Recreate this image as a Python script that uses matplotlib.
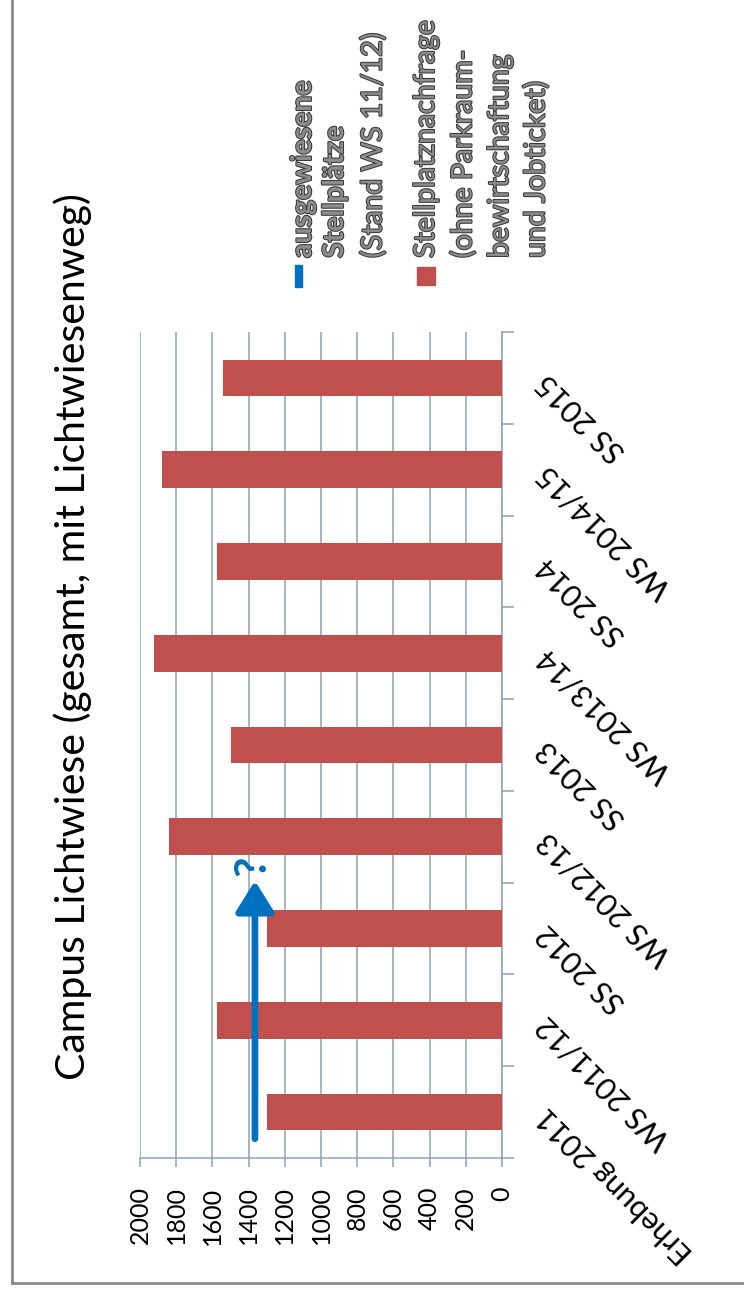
import numpy as np
import matplotlib
matplotlib.use("Agg")
import matplotlib.pyplot as plt
import matplotlib.transforms as mtransforms
import matplotlib.patheffects as pe
from matplotlib.lines import Line2D

categories = ["Erhebung 2011", "WS 2011/12", "SS 2012", "WS 2012/13", "SS 2013",
              "WS 2013/14", "SS 2014", "WS 2014/15", "SS 2015"]
nachfrage = [1300, 1575, 1300, 1840, 1500, 1920, 1575, 1880, 1540]
stellplaetze = 1365
value_ticks = [0, 200, 400, 600, 800, 1000, 1200, 1400, 1600, 1800, 2000]

title = "Campus Lichtwiese (gesamt, mit Lichtwiesenweg)"
legend_blue = ["ausgewiesene", "Stellplätze", "(Stand WS 11/12)"]
legend_red = ["Stellplatznachfrage", "(ohne Parkraum-", "bewirtschaftung", "und Jobticket)"]

RED = "#C0504D"
BLUE = "#0070C0"
GRID = "#8DA2B3"
FONT = "Lato"

W, H = 744, 1295


def fx(px):
    return px / W


def fy(py):
    return 1 - py / H


plt.rcParams["font.family"] = [FONT, "DejaVu Sans"]

fig = plt.figure(figsize=(W / 100, H / 100), dpi=100)
ax = fig.add_axes([fx(140), fy(1158), (502 - 140) / W, (1158 - 332) / H])

pos = np.arange(len(categories))
ax.barh(pos, nachfrage, height=0.4, color=RED, zorder=3)
ax.set_xlim(2000, 0)
ax.set_ylim(-0.5, len(categories) - 0.5)

# value axis (bottom)
ax.set_xticks(value_ticks)
ax.set_xticklabels([str(v) for v in value_ticks], rotation=90, fontsize=18)
ax.tick_params(axis="x", length=6.5, width=1.1, color=GRID, pad=14)
ax.xaxis.grid(True, color=GRID, linewidth=1.1)
ax.set_axisbelow(True)

# category axis (right), ticks between categories
ax.yaxis.tick_right()
ax.set_yticks(np.arange(len(categories) + 1) - 0.5)
ax.tick_params(axis="y", length=8.6, width=1.1, color=GRID, direction="out",
               labelright=False)
for s in ["left", "top"]:
    ax.spines[s].set_visible(False)
for s in ["right", "bottom"]:
    ax.spines[s].set_color(GRID)
    ax.spines[s].set_linewidth(1.1)

off = mtransforms.offset_copy(ax.get_yaxis_transform(), fig=fig, x=40, y=0, units="dots")
for i, c in enumerate(categories):
    ax.text(1.0, i, c, transform=off, rotation=135, rotation_mode="anchor",
            ha="right", va="center", fontsize=22)

# blue arrow for the designated parking spaces
ax.annotate("", xy=(stellplaetze, 2.52), xytext=(stellplaetze, -0.29),
            arrowprops=dict(arrowstyle="-|>,head_length=0.4,head_width=0.25",
                            lw=4.8, color=BLUE, mutation_scale=47,
                            shrinkA=0, shrinkB=0),
            zorder=4)
ax.text(1381, 2.68, "?", rotation=90, ha="center", va="center", fontsize=32,
        fontweight="bold", color=BLUE, zorder=4)

# title
fig.text(fx(73), fy(637), title, rotation=90, ha="center", va="center", fontsize=29.5)

# legend drawn by hand (rotated)
outline = [pe.withStroke(linewidth=1.5, foreground="#3a3a3a")]
fig.add_artist(plt.Rectangle((fx(295), fy(287)), 7 / W, 22 / H, color=BLUE,
                             transform=fig.transFigure))
for i, (txt, xc) in enumerate(zip(legend_blue, [303, 335, 373])):
    fig.text(fx(xc), fy(258), txt, rotation=90, rotation_mode="anchor",
             ha="left", va="center", fontsize=20.5, color="#8c8c8c",
             fontweight="bold" if i < 2 else "normal", path_effects=outline)

fig.add_artist(plt.Rectangle((fx(417), fy(285)), 18 / W, 18 / H, color=RED,
                             transform=fig.transFigure))
for txt, xc in zip(legend_red, [426, 463, 500, 536]):
    fig.text(fx(xc), fy(258), txt, rotation=90, rotation_mode="anchor",
             ha="left", va="center", fontsize=20.5, color="#8c8c8c",
             path_effects=outline)

# outer frame (left and bottom edges visible)
fig.add_artist(Line2D([fx(12), fx(12)], [fy(1283), 1.0], color="#8a8a8a", lw=2,
                      transform=fig.transFigure))
fig.add_artist(Line2D([fx(12), 1.0], [fy(1283), fy(1283)], color="#8a8a8a", lw=2,
                      transform=fig.transFigure))

fig.savefig("out.png", dpi=100, facecolor="white")
